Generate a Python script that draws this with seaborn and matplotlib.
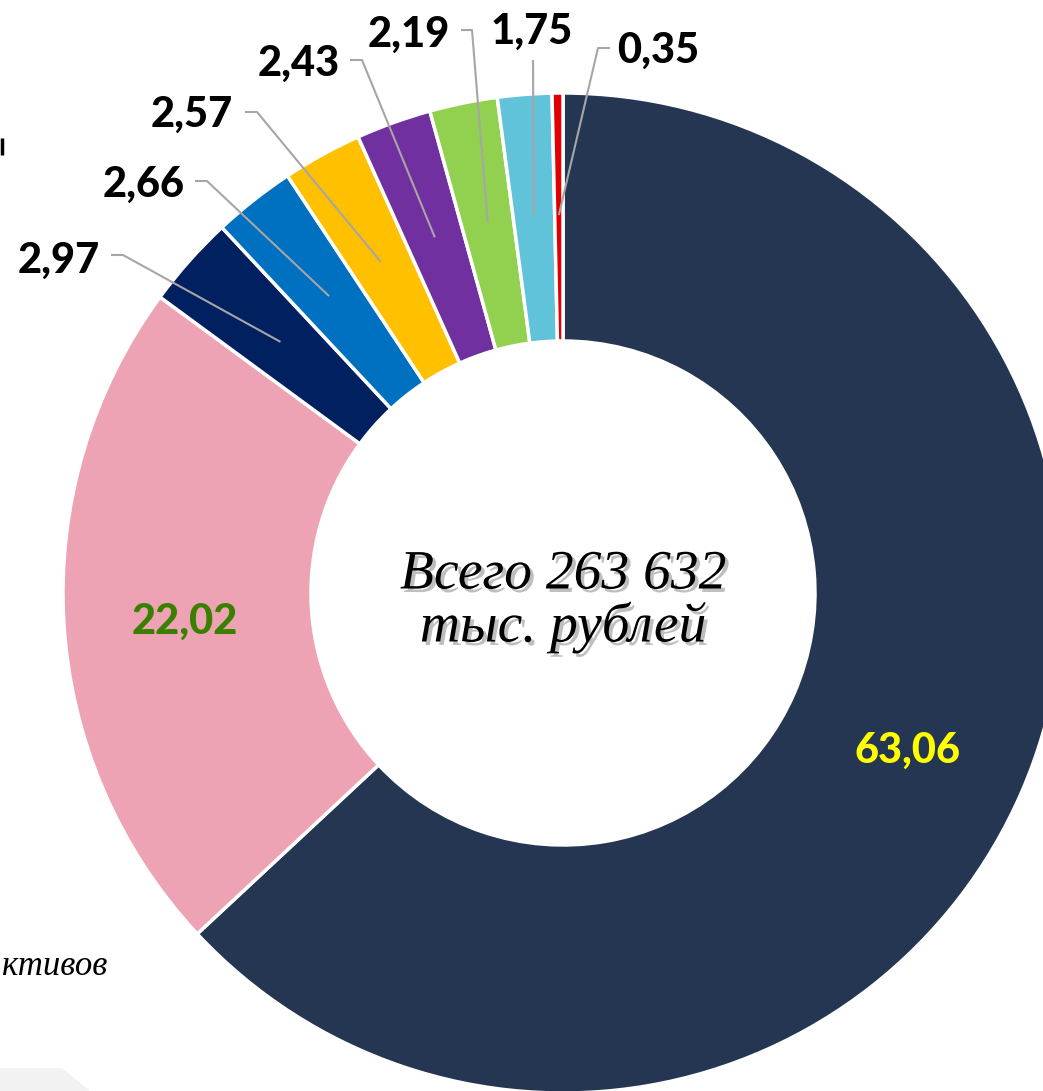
import numpy as np
import matplotlib
matplotlib.use("Agg")
import matplotlib.pyplot as plt
import matplotlib.patheffects as pe
import seaborn as sns

# ---------------------------------------------
# DATA
# ---------------------------------------------
values = [63.06, 22.02, 2.97, 2.66, 2.57, 2.43, 2.19, 1.75, 0.35]
labels = ["63,06", "22,02", "2,97", "2,66", "2,57", "2,43", "2,19", "1,75", "0,35"]
colors = ["#243651", "#EEA3B5", "#002060", "#0070C0", "#FFC000",
          "#7030A0", "#92D050", "#60C3D9", "#E00000"]
center_text = "Всего 263 632\nтыс. рублей"
side_text = "ктивов"

# ---------------------------------------------
# LAYOUT (pixel coords, y from top)
# ---------------------------------------------
W, H = 1043, 1091
CX, CY = 563, 593
R, R_IN = 500, 252


def py(y):
    return H - y


sns.set_theme(style="white")
plt.rcParams["font.family"] = ["Lato", "DejaVu Sans"]

fig = plt.figure(figsize=(W / 100, H / 100), dpi=100)
ax = fig.add_axes([0, 0, 1, 1])

ax.pie(
    values,
    colors=sns.color_palette(colors),
    startangle=90,
    counterclock=False,
    radius=R,
    center=(CX, py(CY)),
    wedgeprops=dict(width=R - R_IN, edgecolor="white", linewidth=2.5),
)

LBL = dict(fontsize=30, fontweight=900)

# inner labels
ax.text(907, py(763), labels[0], color="#FFFF00", ha="center", va="baseline", **LBL)
ax.text(185, py(634), labels[1], color="#3A8000", ha="center", va="baseline", **LBL)

# outer labels: (text x, baseline y, ha, elbow points)
outer = {
    2: (100, 273, "right", [(111, 255), (123, 255)]),
    3: (185, 197, "right", [(195, 181), (207, 181)]),
    4: (233, 127, "right", [(245, 112), (257, 112)]),
    5: (340, 76, "right", [(350, 60), (362, 60)]),
    6: (450, 47, "right", [(461, 30), (472, 30)]),
    7: (532, 44, "center", [(533, 60)]),
    8: (617, 63, "left", [(610, 48), (598, 48)]),
}

cum = np.cumsum([0] + values[:-1])
total = sum(values)
for i, (tx, ty, ha, pts) in outer.items():
    mid = (cum[i] + values[i] / 2) / total * 2 * np.pi
    r_a = 378
    ax_x = CX + r_a * np.sin(mid)
    ax_y = CY - r_a * np.cos(mid)
    xs = [p[0] for p in pts] + [ax_x]
    ys = [py(p[1]) for p in pts] + [py(ax_y)]
    ax.plot(xs, ys, color="#A6A6A6", lw=1.5, solid_capstyle="butt")
    ax.text(tx, py(ty), labels[i], color="black", ha=ha, va="baseline", **LBL)

# center text with shadow
ax.text(CX, py(601), center_text, fontsize=40, style="italic",
        family=["Liberation Serif", "DejaVu Serif"], ha="center", va="center",
        linespacing=1.0, color="black",
        path_effects=[pe.SimplePatchShadow(offset=(2.5, -2.5), shadow_rgbFace="#7F7F7F", alpha=0.5),
                      pe.Normal()])

# fragments of surrounding slide
ax.text(2, py(975), side_text, fontsize=25, style="italic",
        family=["Liberation Serif", "DejaVu Serif"], ha="left", va="baseline", color="black")
ax.plot([1.5, 1.5], [py(138), py(155)], color="black", lw=2.5, solid_capstyle="butt")
ax.fill([0, 62, 90, 90, 0], [py(1068), py(1068), py(1091), py(1091), py(1091)],
        color="#F2F2F2", lw=0, zorder=0)

ax.set_xlim(0, W)
ax.set_ylim(0, H)
ax.set_aspect("auto")
ax.axis("off")

plt.savefig("out.png", dpi=100)
